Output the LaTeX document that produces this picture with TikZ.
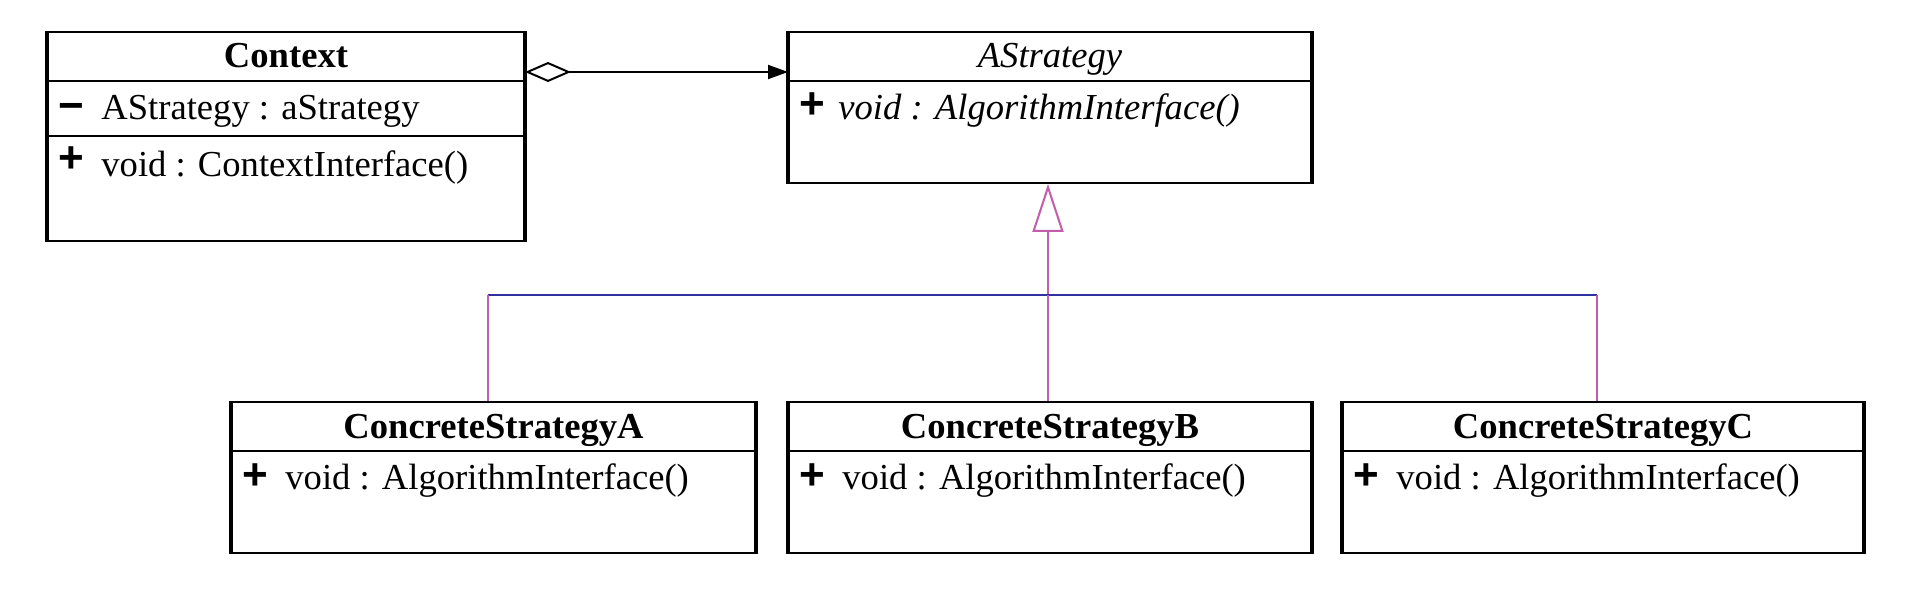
\documentclass[tikz,border=0pt]{standalone}
\usepackage{fontspec}
\setmainfont{Liberation Serif}
\newfontfamily\markfont{Liberation Sans}
\usetikzlibrary{arrows.meta, calc, positioning}

\definecolor{genpink}{RGB}{196,92,172}
\definecolor{genblue}{RGB}{48,48,160}

\tikzset{
    umltext/.style = {font = \fontsize{18.3}{22}\selectfont, inner sep = 0pt},
    classbox/.style 2 args = {draw, line width = 1pt, anchor = north west, inner sep = 0pt,
        minimum width = #1, minimum height = #2},
    classname/.style = {umltext, anchor = base, font = \fontsize{18.3}{22}\selectfont\bfseries},
    member/.style = {umltext, anchor = base west},
    vis/.style = {inner sep = 0pt, anchor = base west, font = \fontsize{22}{24}\selectfont\markfont\bfseries},
    sideline/.style = {line width = 2pt},
    sepline/.style = {line width = 1pt},
    gen/.style = {genpink, line width = 1pt},
    hbar/.style = {genblue, line width = 1pt},
    assoc/.style = {black, line width = 1pt}
}

\begin{document}
\begin{tikzpicture}[x = 0.5pt, y = -0.5pt]
    \useasboundingbox (0, 0) rectangle (1910, 598);

    % class boxes
    \node[classbox = {238pt}{104.5pt}] (ctx) at (47, 31) {};
    \node[classbox = {261pt}{75.5pt}] (strat) at (788, 31) {};
    \node[classbox = {261.5pt}{75.5pt}] (csA) at (231, 401) {};
    \node[classbox = {261pt}{75.5pt}] (csB) at (788, 401) {};
    \node[classbox = {260pt}{75.5pt}] (csC) at (1342, 401) {};

    \foreach \c in {ctx, strat, csA, csB, csC} {
        \draw[sideline] (\c.north west) -- (\c.south west)
            (\c.north east) -- (\c.south east);
        \draw[sepline] ([yshift = -25pt]\c.north west) -- ([yshift = -25pt]\c.north east);
    }
    \draw[sepline] ([yshift = -52.5pt]ctx.north west) -- ([yshift = -52.5pt]ctx.north east);

    % names
    \node[classname] (ctxname) at ([yshift = -18.5pt]ctx.north) {Context};
    \node[classname, font = \fontsize{18.3}{22}\selectfont\itshape] (stratname)
        at ([yshift = -18.5pt]strat.north) {AStrategy};
    \node[classname] (csAname) at ([yshift = -18.5pt]csA.north) {ConcreteStrategyA};
    \node[classname] (csBname) at ([yshift = -18.5pt]csB.north) {ConcreteStrategyB};
    \node[classname] (csCname) at ([yshift = -18.5pt]csC.north) {ConcreteStrategyC};

    % members
    \node[vis] (ctxattrvis) at ([xshift = 5.5pt, yshift = -45pt]ctx.north west) {−};
    \node[member] (ctxattr) at ([xshift = 27pt, yshift = -44.5pt]ctx.north west) {AStrategy : aStrategy};
    \node[vis] (ctxopvis) at ([xshift = 5.5pt, yshift = -71pt]ctx.north west) {+};
    \node[member] (ctxop) at ([xshift = 27pt, yshift = -73pt]ctx.north west) {void : ContextInterface()};

    \node[vis] (stratopvis) at ([xshift = 5.5pt, yshift = -43.8pt]strat.north west) {+};
    \node[member, font = \fontsize{18.3}{22}\selectfont\itshape] (stratop)
        at ([xshift = 25pt, yshift = -44.5pt]strat.north west) {void : AlgorithmInterface()};

    \foreach \c in {csA, csB, csC} {
        \node[vis] (\c opvis) at ([xshift = 5.5pt, yshift = -44pt]\c.north west) {+};
        \node[member] (\c op) at ([xshift = 27pt, yshift = -44pt]\c.north west) {void : AlgorithmInterface()};
    }

    % aggregation
    \draw[assoc, {Diamond[open, length = 23pt, width = 10pt]}-{Triangle[length = 10pt, width = 7pt]}]
        ([yshift = -20.5pt]ctx.north east) -- ([yshift = -20.5pt]strat.north west);

    % generalisation
    \coordinate (bar) at ($(strat.south) + (-2, 111)$);
    \coordinate (barA) at ([xshift = -3pt]csA.north |- bar);
    \coordinate (barC) at ([xshift = -3pt]csC.north |- bar);
    \draw[gen, -{Triangle[open, length = 24pt, width = 15.5pt]}] (bar) -- (bar |- strat.south);
    \draw[hbar] (barA) -- (barC);
    \draw[gen] (barA) -- (barA |- csA.north);
    \draw[gen] (bar) -- (bar |- csB.north);
    \draw[gen] (barC) -- (barC |- csC.north);
\end{tikzpicture}
\end{document}
